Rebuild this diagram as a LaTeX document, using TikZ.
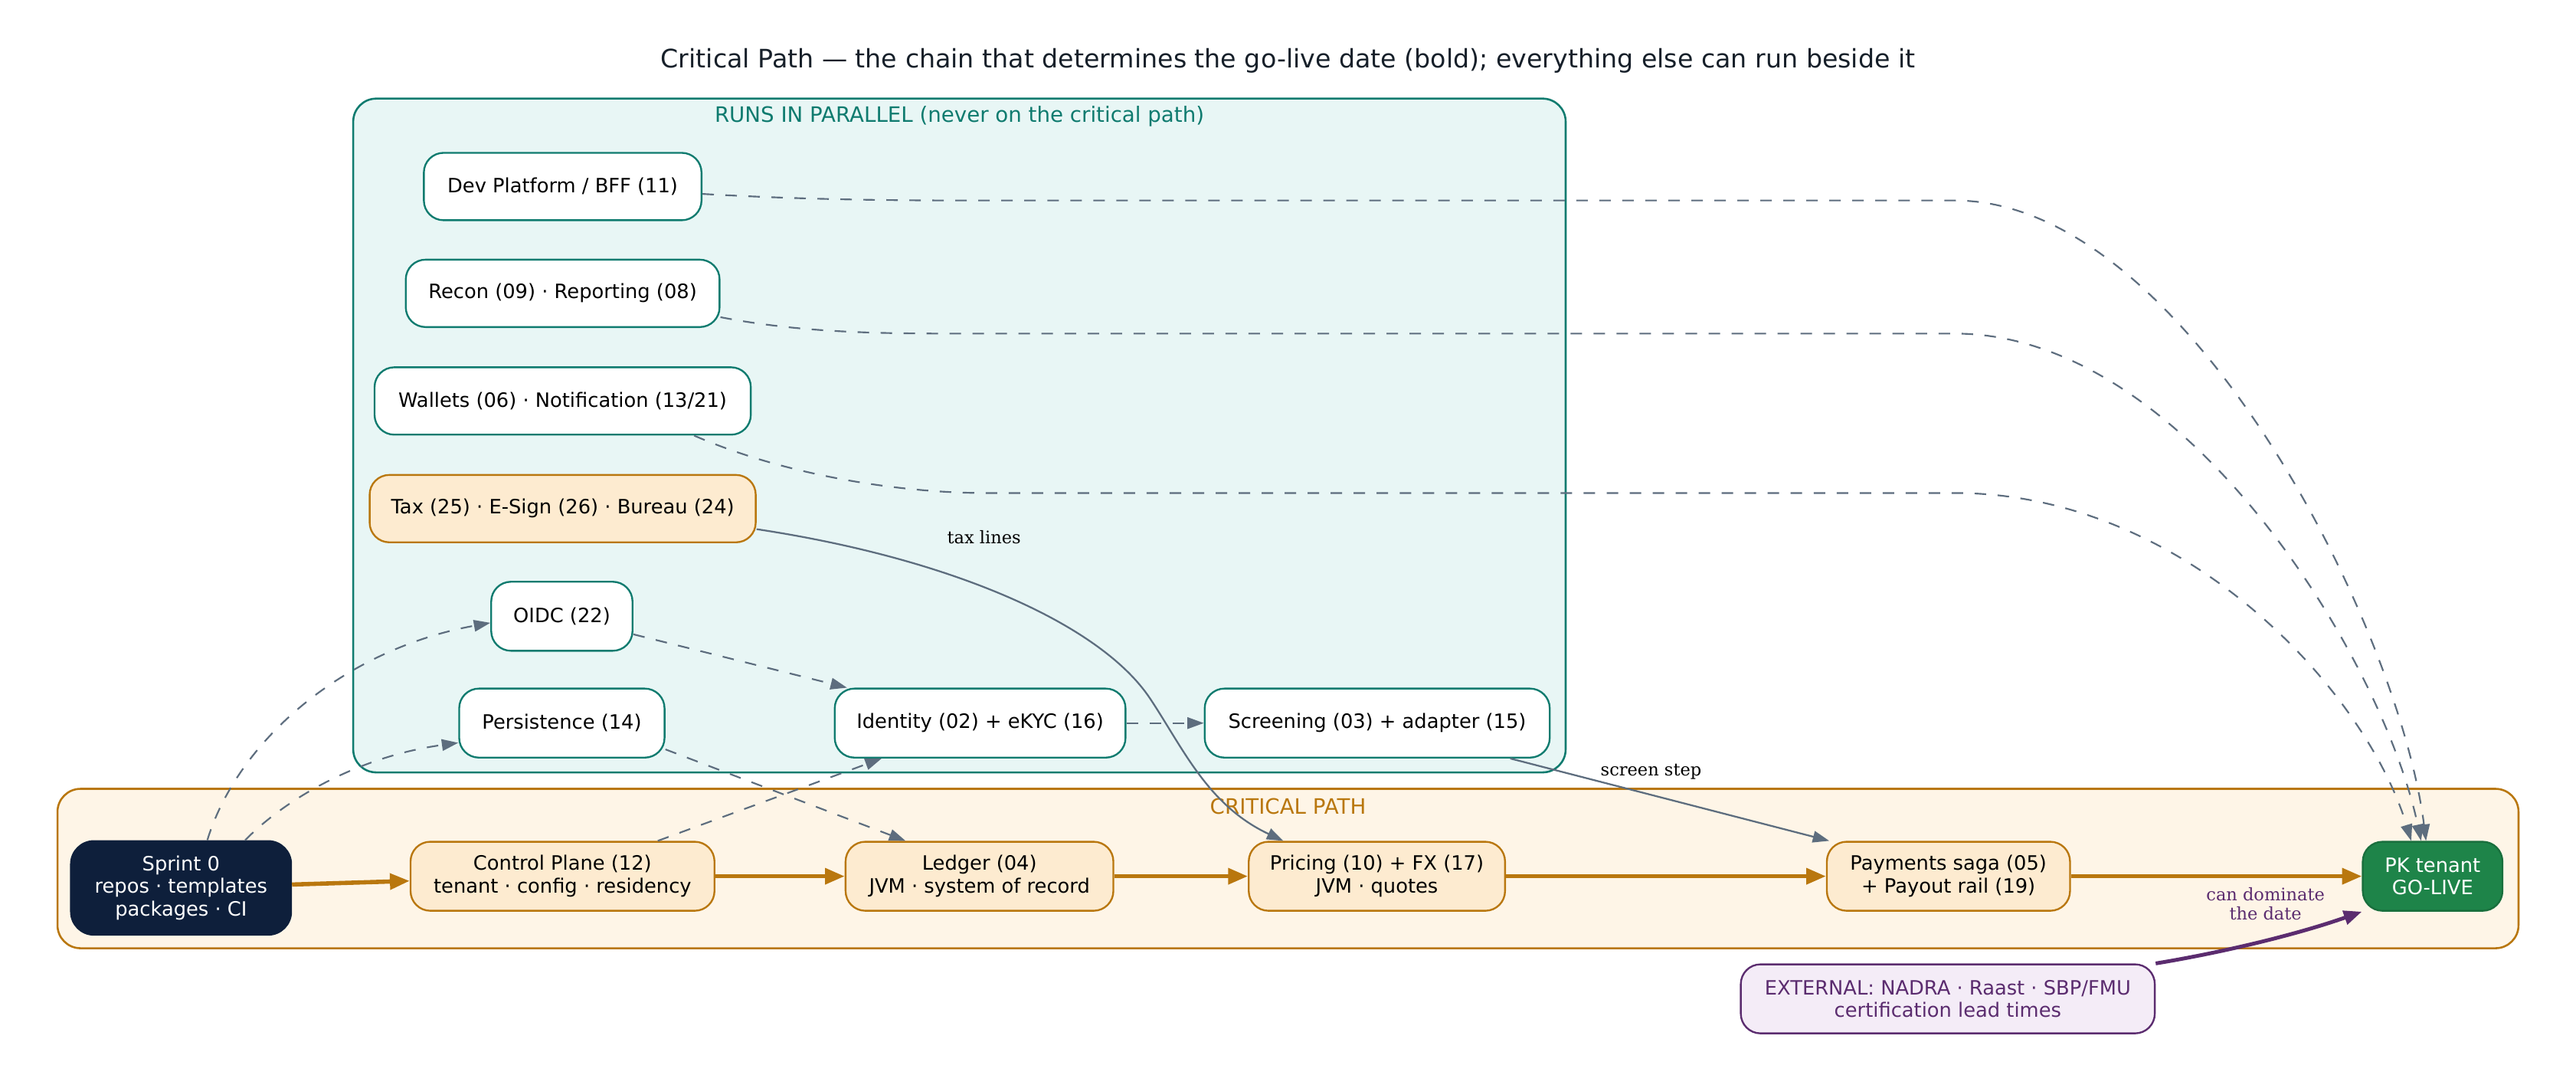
\documentclass[tikz,border=0pt]{standalone}
\usepackage{fontspec}
\setmainfont{DejaVu Sans}
\newfontfamily\labserif{DejaVu Serif}
\usetikzlibrary{arrows.meta,calc}
\definecolor{cteal}{HTML}{0F7B6F}
\definecolor{parfill}{HTML}{E8F6F5}
\definecolor{corange}{HTML}{B9770E}
\definecolor{critfill}{HTML}{FEF5E7}
\definecolor{critnode}{HTML}{FDEBD0}
\definecolor{navy}{HTML}{0E1F3B}
\definecolor{cgreen}{HTML}{1E8449}
\definecolor{cgreend}{HTML}{196F3D}
\definecolor{cpurple}{HTML}{5B2C6F}
\definecolor{purplefill}{HTML}{F4ECF7}
\definecolor{cgray}{HTML}{5D6D7E}
\definecolor{titlecol}{HTML}{17202A}
\begin{document}
\begin{tikzpicture}[x=1pt,y=-1pt,
  box/.style={rounded corners=12pt, draw, line width=1.1pt, inner sep=0pt, align=center,
    minimum height=41pt, font=\fontsize{12}{13.8}\selectfont},
  parnode/.style={box, draw=cteal, fill=white, text=black},
  critbox/.style={box, draw=corange, fill=critnode, text=black},
  startbox/.style={box, draw=navy, fill=navy, text=white, minimum height=57pt, rounded corners=14pt},
  livebox/.style={box, draw=cgreend, fill=cgreen, text=white},
  extbox/.style={box, draw=cpurple, fill=purplefill, text=cpurple, minimum height=42pt},
  cluster/.style={rounded corners=14pt, line width=1.2pt},
  clusterlabel/.style={font=\fontsize{12.9}{14}\selectfont},
  dashedge/.style={draw=cgray, line width=1pt, dash pattern=on 7pt off 7pt,
    -{Triangle[length=10pt,width=7pt]}},
  solidedge/.style={draw=cgray, line width=1.05pt, -{Triangle[length=10pt,width=7pt]}},
  critedge/.style={draw=corange, line width=2.6pt, -{Triangle[length=12pt,width=9.5pt]}},
  extedge/.style={draw=cpurple, line width=2.3pt, -{Triangle[length=11pt,width=8.5pt]}},
  elabel/.style={font=\labserif\fontsize{10.5}{11.6}\selectfont, align=center, inner sep=0pt}
]
\useasboundingbox (0,0) rectangle (1568,654);
\fill[white] (0,0) rectangle (1568,654);

% title
\node[font=\fontsize{15.5}{17}\selectfont, text=titlecol] (title) at (784,37)
  {Critical Path — the chain that determines the go-live date (bold); everything else can run beside it};

% clusters
\draw[cluster, draw=cteal, fill=parfill] (215,60) rectangle (953,470);
\node[clusterlabel, text=cteal] (parlabel) at (584,71) {RUNS IN PARALLEL (never on the critical path)};
\draw[cluster, draw=corange, fill=critfill] (35,480) rectangle (1533,577);
\node[clusterlabel, text=corange] (critlabel) at (784,490.5) {CRITICAL PATH};

% parallel nodes
\node[parnode, minimum width=169pt] (dev) at (342.5,113.5) {Dev Platform / BFF (11)};
\node[parnode, minimum width=191pt] (recon) at (342.5,178.5) {Recon (09) · Reporting (08)};
\node[parnode, minimum width=229pt] (wallets) at (342.5,244) {Wallets (06) · Notification (13/21)};
\node[critbox, minimum width=235pt] (tax) at (342.5,309.5) {Tax (25) · E-Sign (26) · Bureau (24)};
\node[parnode, minimum width=86pt, minimum height=42pt] (oidc) at (342,375) {OIDC (22)};
\node[parnode, minimum width=125pt, minimum height=42pt] (persist) at (342,440) {Persistence (14)};
\node[parnode, minimum width=177pt, minimum height=42pt] (identity) at (596.6,440) {Identity (02) + eKYC (16)};
\node[parnode, minimum width=210pt, minimum height=42pt] (screening) at (838.3,440) {Screening (03) + adapter (15)};

% critical path nodes
\node[startbox, minimum width=134pt] (sprint) at (110.2,540.3) {Sprint 0\\repos · templates\\packages · CI};
\node[critbox, minimum width=185pt, minimum height=42pt] (control) at (342.4,533.2) {Control Plane (12)\\tenant · config · residency};
\node[critbox, minimum width=163pt, minimum height=42pt] (ledger) at (596.2,533.2) {Ledger (04)\\JVM · system of record};
\node[critbox, minimum width=156pt, minimum height=42pt] (pricing) at (838.1,533.2) {Pricing (10) + FX (17)\\JVM · quotes};
\node[critbox, minimum width=148pt, minimum height=42pt] (payments) at (1186,533.2) {Payments saga (05)\\+ Payout rail (19)};
\node[livebox, minimum width=85pt, minimum height=42pt] (golive) at (1480.7,533.2) {PK tenant\\GO-LIVE};
\node[extbox, minimum width=252pt] (external) at (1185.6,607.8) {EXTERNAL: NADRA · Raast · SBP/FMU\\certification lead times};

% critical chain
\draw[critedge] (sprint) -- (control);
\draw[critedge] (control) -- (ledger);
\draw[critedge] (ledger) -- (pricing);
\draw[critedge] (pricing) -- (payments);
\draw[critedge] (payments) -- (golive);

% dashed dependencies
\draw[dashedge] ([xshift=16pt]sprint.north) .. controls (145,450) and (210,395) .. ([yshift=-4pt]oidc.west);
\draw[dashedge] ([xshift=39pt]sprint.north) .. controls (175,485) and (220,460) .. ([yshift=-12pt]persist.west);
\draw[dashedge] ([yshift=-11pt]oidc.east) -- ([xshift=8pt]identity.north west);
\draw[dashedge] ([yshift=-16pt]persist.east) -- ([xshift=-45pt]ledger.north);
\draw[dashedge] ([xshift=58pt]control.north) -- ([xshift=-60pt]identity.south);
\draw[dashedge] (identity.east) -- (screening.west);

% tax lines
\draw[solidedge] ([yshift=-12.5pt]tax.east) .. controls (580,340) and (670,380) .. (700,425)
  .. controls (720,455) and (735,490) .. ([xshift=-57pt]pricing.north);
\node[elabel] (taxlab) at (599,327) {tax lines};

% screen step
\draw[solidedge] ([xshift=81pt]screening.south) -- ([xshift=2pt]payments.north west);
\node[elabel] (screenlab) at (1005,469.5) {screen step};

% long dashed edges to go-live
\draw[dashedge] ([yshift=-4.5pt]dev.east) .. controls (480,121) and (530,122) .. (590,122) -- (1190,122)
  .. controls (1330,122) and (1460,380) .. ([xshift=-4pt]golive.north);
\draw[dashedge] ([yshift=-14.5pt]recon.east) .. controls (490,203) and (540,203) .. (590,203) -- (1190,203)
  .. controls (1330,203) and (1450,400) .. ([xshift=-7pt]golive.north);
\draw[dashedge] ([xshift=80pt]wallets.south) .. controls (480,290) and (550,300) .. (600,300) -- (1190,300)
  .. controls (1330,300) and (1440,420) .. ([xshift=-13pt]golive.north);

% external
\draw[extedge] (external.north east) .. controls (1356,579) and (1400,568) .. (golive.south west);
\node[elabel, text=cpurple] (extlab) at (1379,550) {can dominate\\the date};
\end{tikzpicture}
\end{document}
